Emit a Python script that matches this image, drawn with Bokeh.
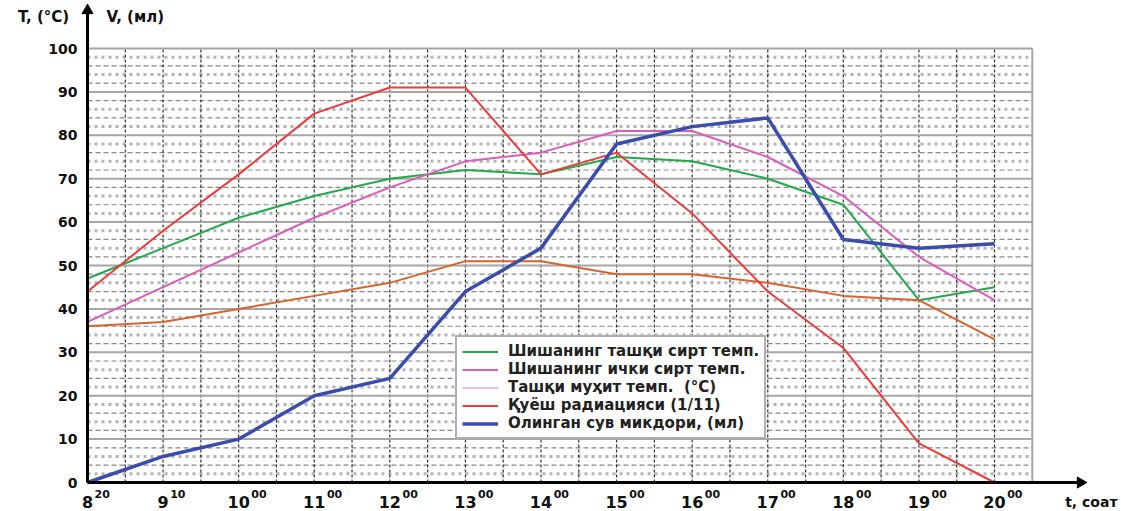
import numpy as np
from bokeh.plotting import figure
from bokeh.models import Range1d, Legend, LegendItem
from bokeh.core.properties import value
from bokeh.embed import file_html
from bokeh.resources import INLINE

# ---- data ----
hour_labels = ["8", "9", "10", "11", "12", "13", "14", "15", "16", "17", "18", "19", "20"]
minute_labels = ["20", "10", "00", "00", "00", "00", "00", "00", "00", "00", "00", "00", "00"]
glass_outer = [47, 54, 61, 66, 70, 72, 71, 75, 74, 70, 64, 42, 45]
glass_inner = [37, 45, 53, 61, 68, 74, 76, 81, 81, 75, 66, 52, 42]
ambient = [36, 37, 40, 43, 46, 51, 51, 48, 48, 46, 43, 42, 33]
radiation = [44, 58, 71, 85, 91, 91, 71, 76, 62, 44, 31, 9, 0]
water = [0, 6, 10, 20, 24, 44, 54, 78, 82, 84, 56, 54, 55]
y_ticks = [0, 10, 20, 30, 40, 50, 60, 70, 80, 90, 100]
legend_labels = [
    "Шишанинг ташқи сирт темп.",
    "Шишанинг ички сирт темп.",
    "Ташқи муҳит темп.  (°С)",
    "Қуёш радиацияси (1/11)",
    "Олинган сув микдори, (мл)",
]
y_title = "T, (°C)"
v_title = "V, (мл)"
x_title = "t, соат"

# ---- layout ----
W, H = 1121, 511
left_px, last_px = 87, 994
bottom_px, top_px = 482, 48
n = len(hour_labels)
ux = (last_px - left_px) / (n - 1)
uy = (bottom_px - top_px) / 100.0
x_range = Range1d(-left_px / ux, (W - left_px) / ux)
y_range = Range1d(-(H - bottom_px) / uy, 100 + top_px / uy)

p = figure(width=W, height=H, x_range=x_range, y_range=y_range,
           output_backend="svg", toolbar_location=None,
           x_axis_location=None, y_axis_location=None,
           min_border=0, outline_line_color=None)
p.xgrid.visible = False
p.ygrid.visible = False
p.background_fill_color = "white"
p.border_fill_color = "white"

xs_idx = list(range(n))
x_end = n - 1 + 0.5
y_max = max(y_ticks)

FONT = value("DejaVu Sans")

# minor horizontal grid
minor_levels = [v for v in range(2, y_max, 2) if v % 10 != 0]
sq = [v for v in minor_levels if (v // 2) % 2 == 1]
da = [v for v in minor_levels if (v // 2) % 2 == 0]
p.multi_line(xs=[[0, x_end]] * len(sq), ys=[[v, v] for v in sq],
             line_color="#b4b4b4", line_width=3, line_dash="3 4")
p.multi_line(xs=[[0, x_end]] * len(da), ys=[[v, v] for v in da],
             line_color="#888888", line_width=1.2, line_dash="5 3")

# vertical grid
vx = [k * 0.5 for k in range(1, 2 * (n - 1) + 1)]
p.multi_line(xs=[[v, v] for v in vx], ys=[[0, y_max]] * len(vx),
             line_color="#111111", line_width=1.2, line_dash="3 2", line_alpha=0.85)

# major horizontal grid
maj = [v for v in y_ticks if v > 0]
p.multi_line(xs=[[0, x_end]] * len(maj), ys=[[v, v] for v in maj],
             line_color="#a6a6a6", line_width=2)
# right border
p.line([x_end, x_end], [0, y_max], line_color="#a6a6a6", line_width=2)

# data lines
r_green = p.line(xs_idx, glass_outer, line_color="#22aa4a", line_width=2)
r_pink = p.line(xs_idx, glass_inner, line_color="#dc5cbc", line_width=2)
p.line(xs_idx, ambient, line_color="#d8632c", line_width=2)
r_red = p.line(xs_idx, radiation, line_color="#f03a3a", line_width=2)
r_blue = p.line(xs_idx, water, line_color="#3a4cac", line_width=3.5)
off = x_range.start - 10
r_pale = p.line([off, off - 1], [-50, -50], line_color="#f4bcd6", line_width=2)

# axes
y_arrow = y_range.end - 10 / uy
x_arrow = (1080 - left_px) / ux
p.line([0, 0], [0, y_arrow], line_color="black", line_width=3)
p.line([0, x_arrow], [0, 0], line_color="black", line_width=3)
p.scatter([0], [y_arrow], marker="triangle", size=11, color="black")
p.scatter([x_arrow], [0], marker="triangle", size=11, color="black", angle=-np.pi / 2)

# y tick labels
p.text(x=[0] * len(y_ticks), y=y_ticks, text=[str(v) for v in y_ticks],
       x_offset=-10, text_align="right", text_baseline="middle",
       text_font=FONT, text_font_size="14px", text_font_style="bold", text_color="#111")

# x tick labels with superscripts
p.text(x=xs_idx, y=[0] * n, text=hour_labels, y_offset=19,
       text_align="center", text_baseline="middle",
       text_font=FONT, text_font_size="16px", text_font_style="bold", text_color="#111")
p.text(x=xs_idx, y=[0] * n, text=minute_labels,
       x_offset=[len(h) * 5.6 + 1.5 for h in hour_labels], y_offset=11,
       text_align="left", text_baseline="middle",
       text_font=FONT, text_font_size="11px", text_font_style="bold", text_color="#111")

# axis titles
p.text(x=[0], y=[y_range.end], text=[y_title], x_offset=-44, y_offset=16,
       text_align="center", text_baseline="middle",
       text_font=FONT, text_font_size="15px", text_font_style="bold", text_color="#111")
p.text(x=[0], y=[y_range.end], text=[v_title], x_offset=19, y_offset=16,
       text_align="left", text_baseline="middle",
       text_font=FONT, text_font_size="15px", text_font_style="bold", text_color="#111")
p.text(x=[x_range.end], y=[0], text=[x_title], x_offset=-4, y_offset=19,
       text_align="right", text_baseline="middle",
       text_font=FONT, text_font_size="14px", text_font_style="bold", text_color="#111")

# legend
items = [LegendItem(label=lab, renderers=[r]) for lab, r in
         zip(legend_labels, [r_green, r_pink, r_pale, r_red, r_blue])]
legend = Legend(items=items, location=(455, H - 439),
                border_line_color="#606060", border_line_width=2,
                background_fill_color="white", background_fill_alpha=1,
                label_text_font="DejaVu Sans", label_text_font_size="15px",
                label_text_font_style="bold", label_text_color="#222",
                glyph_width=36, glyph_height=15, label_height=15,
                spacing=0, padding=5, label_standoff=10, margin=0)
p.add_layout(legend)

open("out.html", "w").write(file_html(p, INLINE))
